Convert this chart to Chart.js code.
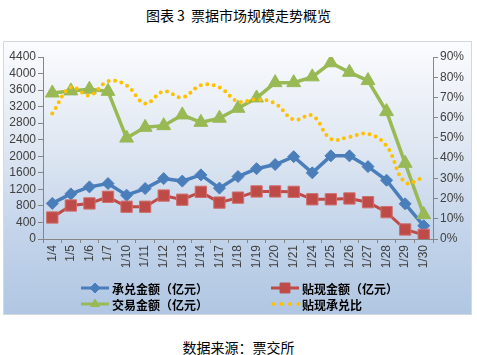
<!DOCTYPE html>
<html>
<head>
<meta charset="utf-8">
<script src="https://cdn.jsdelivr.net/npm/chart.js"></script>
<style>
html,body{margin:0;padding:0;background:#fff;width:477px;height:355px;overflow:hidden;}
#title{position:absolute;left:0;top:6px;width:477px;text-align:center;font:14px 'Noto Sans CJK SC',sans-serif;color:#000;line-height:18px;}
#card{position:absolute;left:3px;top:41px;width:469px;height:274px;
  background:linear-gradient(to bottom,#fbfcfe 0%,#e2e9f3 35%,#c3d4ea 70%,#b0c6e2 100%);
  box-shadow:inset 0 0 0 1px #d4d8dd;}
#wrap{position:absolute;left:0;top:0;width:469px;height:274px;}
#src{position:absolute;left:0;top:338px;width:477px;text-align:center;font:14px 'Noto Sans CJK SC',sans-serif;color:#000;line-height:18px;}
</style>
</head>
<body>
<div id="title">图表 3&nbsp;&nbsp;票据市场规模走势概览</div>
<div id="card"><div id="wrap"><canvas id="c"></canvas></div></div>
<div id="src">数据来源：票交所</div>
<script>
const categories = ['1/4','1/5','1/6','1/7','1/10','1/11','1/12','1/13','1/14','1/17','1/18','1/19','1/20','1/21','1/24','1/25','1/26','1/27','1/28','1/29','1/30'];
const acceptance = [860,1090,1260,1340,1060,1220,1460,1400,1550,1230,1510,1700,1800,1990,1600,2010,2010,1750,1420,850,320];
const discount = [520,810,860,1020,780,780,1050,950,1140,880,1000,1150,1150,1140,960,960,980,890,650,230,100];
const trading = [3530,3580,3620,3570,2440,2700,2740,3000,2820,2920,3160,3410,3780,3780,3920,4260,4030,3830,3080,1830,590];
const ratio = [62,75,71,78,76,67,73,70,76,75,68,69,67,59,61,49.5,50.5,52,46,28,30.5];
const seriesNames = ['承兑金额（亿元）','贴现金额（亿元）','交易金额（亿元）','贴现承兑比'];
const leftTicks = {min:0,max:4400,step:400};
const rightTicks = {min:0,max:90,step:10};

const BLUE='#4a7ebb', RED='#be4b48', GREEN='#98b954', YELLOW='#ffc000', AXIS='#868686', TXT='#404040';

function marker(ctx, style, x, y, r, color){
  ctx.save();
  ctx.fillStyle=color; ctx.strokeStyle=color; ctx.lineWidth=1;
  ctx.beginPath();
  if(style==='rectRot'){ctx.moveTo(x,y-r);ctx.lineTo(x+r,y);ctx.lineTo(x,y+r);ctx.lineTo(x-r,y);ctx.closePath();}
  else if(style==='rect'){const s=r*Math.SQRT1_2;ctx.rect(x-s,y-s,2*s,2*s);}
  else if(style==='triangle'){ctx.moveTo(x,y-r);ctx.lineTo(x+r*0.866,y+r*0.5);ctx.lineTo(x-r*0.866,y+r*0.5);ctx.closePath();}
  ctx.fill(); ctx.stroke();
  ctx.restore();
}

const gridLegend = {
  id:'gridLegend',
  afterDraw(chart){
    const ctx=chart.ctx;
    const colX=[78,268], rowY=[247,263];
    chart.data.datasets.forEach((ds,i)=>{
      const x0=colX[i%2], y=rowY[Math.floor(i/2)];
      ctx.save();
      ctx.strokeStyle=ds.borderColor;
      if(ds.borderDash && ds.borderDash.length){
        ctx.lineWidth=4; ctx.lineCap='round'; ctx.setLineDash([0,8.5]);
        ctx.beginPath(); ctx.moveTo(x0+2,y); ctx.lineTo(x0+28,y); ctx.stroke();
      } else {
        ctx.lineWidth=3; ctx.beginPath(); ctx.moveTo(x0,y); ctx.lineTo(x0+28,y); ctx.stroke();
        marker(ctx, ds.pointStyle, x0+14, y, ds.pointStyle==='rect'?7:5, ds.borderColor);
      }
      ctx.setLineDash([]);
      ctx.fillStyle='#000';
      ctx.font="bold 12px 'Noto Sans CJK SC'";
      ctx.textBaseline='middle'; ctx.textAlign='left';
      ctx.fillText(ds.label, x0+31, y+1);
      ctx.restore();
    });
  }
};

const tickFont={family:"'Liberation Sans', Arial, sans-serif", size:12};

new Chart(document.getElementById('c'),{
  type:'line',
  data:{
    labels:categories,
    datasets:[
      {label:seriesNames[0],data:acceptance,yAxisID:'y',borderColor:BLUE,backgroundColor:BLUE,borderWidth:3.5,pointStyle:'rectRot',pointRadius:6,pointBorderWidth:1,tension:0,order:4},
      {label:seriesNames[1],data:discount,yAxisID:'y',borderColor:RED,backgroundColor:RED,borderWidth:3,pointStyle:'rect',pointRadius:8,pointBorderWidth:1,pointBorderColor:'#cf6f6c',tension:0,order:3},
      {label:seriesNames[2],data:trading,yAxisID:'y',borderColor:GREEN,backgroundColor:GREEN,borderWidth:3.5,pointStyle:'triangle',pointRadius:8,pointBorderWidth:1,tension:0,order:2},
      {label:seriesNames[3],data:ratio,yAxisID:'y1',borderColor:YELLOW,backgroundColor:YELLOW,borderWidth:4,borderDash:[0,6.5],borderCapStyle:'round',pointRadius:0,tension:0.4,order:1}
    ]
  },
  options:{
    responsive:true,maintainAspectRatio:false,animation:false,
    layout:{padding:{top:16,left:0,right:0,bottom:0}},
    plugins:{legend:{display:false},tooltip:{enabled:false},title:{display:false}},
    scales:{
      x:{offset:true,
        grid:{display:true,drawOnChartArea:false,drawTicks:true,tickLength:4,color:AXIS,offset:true},
        border:{color:AXIS,width:1},
        ticks:{minRotation:90,maxRotation:90,autoSkip:false,padding:2,font:tickFont,color:TXT},
        afterFit(s){s.height=76;}},
      y:{position:'left',min:leftTicks.min,max:leftTicks.max,
        ticks:{stepSize:leftTicks.step,autoSkip:false,font:tickFont,color:TXT,padding:2,callback:v=>String(v)},
        grid:{drawOnChartArea:false,tickLength:5,color:AXIS},
        border:{color:AXIS,width:1},
        afterFit(s){s.width=40;}},
      y1:{position:'right',min:rightTicks.min,max:rightTicks.max,
        ticks:{stepSize:rightTicks.step,autoSkip:false,font:tickFont,color:TXT,padding:2,callback:v=>v+'%'},
        grid:{drawOnChartArea:false,tickLength:5,color:AXIS},
        border:{color:AXIS,width:1},
        afterFit(s){s.width=39;}}
    }
  },
  plugins:[gridLegend]
});
</script>
</body>
</html>
